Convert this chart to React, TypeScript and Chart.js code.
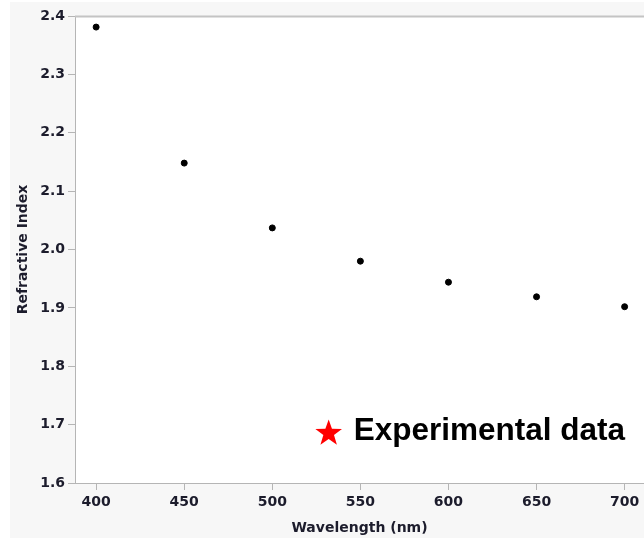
import React, { useEffect, useRef } from "react";
import { Chart, registerables } from "chart.js";

Chart.register(...registerables);

const wavelengths = [400, 450, 500, 550, 600, 650, 700];
const refractiveIndex = [2.381, 2.148, 2.037, 1.98, 1.944, 1.919, 1.902];
const xTicks = [400, 450, 500, 550, 600, 650, 700];
const yTicks = [1.6, 1.7, 1.8, 1.9, 2.0, 2.1, 2.2, 2.3, 2.4];
const legendLabel = "Experimental data";

const TICK_FONT = { family: "'DejaVu Sans', sans-serif", size: 14, weight: "bold" as const };
const TITLE_FONT = { family: "'DejaVu Sans', sans-serif", size: 14, weight: "bold" as const };
const TICK_COLOR = "#1c1c2c";
const AXIS_COLOR = "#b5b5b5";

function drawStar(ctx: CanvasRenderingContext2D, cx: number, cy: number, outer: number, inner: number) {
  ctx.beginPath();
  for (let i = 0; i < 10; i++) {
    const r = i % 2 === 0 ? outer : inner;
    const a = -Math.PI / 2 + (i * Math.PI) / 5;
    const x = cx + r * Math.cos(a);
    const y = cy + r * Math.sin(a);
    if (i === 0) ctx.moveTo(x, y);
    else ctx.lineTo(x, y);
  }
  ctx.closePath();
  ctx.fill();
}

const bgPlugin = {
  id: "bgPlugin",
  beforeDraw(chart: any) {
    const { ctx, chartArea, width, height } = chart;
    ctx.save();
    ctx.fillStyle = "#ffffff";
    ctx.fillRect(0, 0, width, height);
    ctx.fillStyle = "#f7f7f7";
    ctx.fillRect(10, 2, width - 10, height - 4);
    ctx.fillStyle = "#ffffff";
    ctx.fillRect(chartArea.left, chartArea.top, chartArea.right - chartArea.left, chartArea.bottom - chartArea.top);
    ctx.restore();
  },
  afterDraw(chart: any) {
    const { ctx, chartArea } = chart;
    ctx.save();
    ctx.strokeStyle = "#c4c4c4";
    ctx.lineWidth = 2;
    ctx.beginPath();
    ctx.moveTo(chartArea.left, chartArea.top + 0.5);
    ctx.lineTo(chartArea.right, chartArea.top + 0.5);
    ctx.stroke();
    // legend
    const xs = chart.scales.x;
    const ys = chart.scales.y;
    const sx = xs.getPixelForValue(532);
    const sy = ys.getPixelForValue(1.685);
    ctx.fillStyle = "#ff0000";
    drawStar(ctx, sx, sy, 14, 5.6);
    ctx.fillStyle = "#000000";
    ctx.font = "bold 31.5px 'Liberation Sans', Arial, sans-serif";
    ctx.textBaseline = "middle";
    ctx.textAlign = "left";
    ctx.fillText(legendLabel, sx + 25, sy - 2);
    ctx.restore();
  },
};

export default function App() {
  const ref = useRef<HTMLCanvasElement | null>(null);
  useEffect(() => {
    if (!ref.current) return;
    const chart = new Chart(ref.current, {
      type: "scatter",
      data: {
        datasets: [
          {
            label: legendLabel,
            data: wavelengths.map((w, i) => ({ x: w, y: refractiveIndex[i] })),
            backgroundColor: "#000000",
            borderColor: "#000000",
            pointRadius: 3,
            pointHoverRadius: 3,
          },
        ],
      },
      options: {
        animation: false,
        responsive: false,
        layout: { autoPadding: false, padding: { top: 16, right: 0, left: 0, bottom: 0 } },
        plugins: { legend: { display: false }, tooltip: { enabled: false } },
        scales: {
          x: {
            type: "linear",
            min: 388,
            max: 711,
            afterBuildTicks: (s: any) => {
              s.ticks = xTicks.map((v) => ({ value: v }));
            },
            afterFit: (s: any) => {
              s.height = 57;
              s.paddingLeft = 0;
              s.paddingRight = 0;
            },
            ticks: { font: TICK_FONT, color: TICK_COLOR, padding: 4 },
            grid: { drawOnChartArea: false, drawTicks: true, tickLength: 7, color: AXIS_COLOR },
            border: { color: AXIS_COLOR, width: 1 },
            title: {
              display: true,
              text: "Wavelength (nm)",
              font: TITLE_FONT,
              color: TICK_COLOR,
              padding: { top: 0, bottom: 3 },
            },
          },
          y: {
            type: "linear",
            min: 1.6,
            max: 2.4,
            afterBuildTicks: (s: any) => {
              s.ticks = yTicks.map((v) => ({ value: v }));
            },
            afterFit: (s: any) => {
              s.width = 75;
              s.paddingTop = 0;
              s.paddingBottom = 0;
            },
            ticks: {
              font: TICK_FONT,
              color: TICK_COLOR,
              padding: 3,
              callback: (v: any) => Number(v).toFixed(1),
            },
            grid: { drawOnChartArea: false, drawTicks: true, tickLength: 7, color: AXIS_COLOR },
            border: { color: AXIS_COLOR, width: 1 },
            title: {
              display: true,
              text: "Refractive Index",
              font: TITLE_FONT,
              color: TICK_COLOR,
              padding: { top: 15, bottom: 0 },
            },
          },
        },
      },
      plugins: [bgPlugin],
    } as any);
    return () => chart.destroy();
  }, []);
  return (
    <div style={{ position: "absolute", left: 0, top: 0, width: 644, height: 540 }}>
      <canvas ref={ref} width={644} height={540} style={{ width: 644, height: 540, display: "block" }} />
    </div>
  );
}
